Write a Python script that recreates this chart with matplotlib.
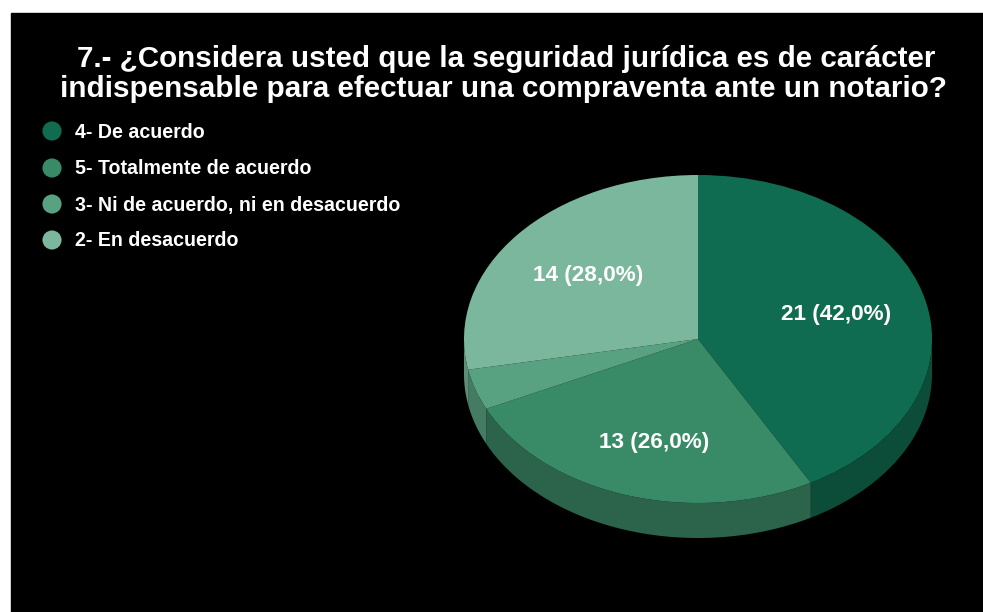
import matplotlib.pyplot as plt
from matplotlib.patches import Rectangle
import numpy as np

plt.rcParams['font.family'] = ['Liberation Sans', 'DejaVu Sans']

title_lines = ["7.- ¿Considera usted que la seguridad jurídica es de carácter",
               "indispensable para efectuar una compraventa ante un notario?"]
labels = ["4- De acuerdo", "5- Totalmente de acuerdo",
          "3- Ni de acuerdo, ni en desacuerdo", "2- En desacuerdo"]
counts = [21, 13, 2, 14]

top_colors = ["#106c50", "#398b67", "#58a282", "#7bb79c"]
side_colors = ["#0c4d39", "#2b644a", "#437c63", "#5d8c77"]

W, H = 983, 612
fig = plt.figure(figsize=(W / 100, H / 100), dpi=100, facecolor="white")

# black panel with a thin white margin on the top and left
fig.add_artist(Rectangle((11 / W, 0), 1 - 11 / W, (H - 13) / H,
                         transform=fig.transFigure, color="black", zorder=0))

# pie geometry in pixels (top face ellipse + rim depth)
cx, cy, rx, ry, depth = 698, 339, 234, 164, 35
pad = 1.1
d = depth / ry
ax = fig.add_axes([(cx - pad * rx) / W, 1 - (cy + pad * ry + depth) / H,
                   2 * pad * rx / W, (2 * pad * ry + depth) / H])
total = sum(counts)


def fmt(pct):
    if pct < 5:
        return ""
    n = int(round(pct * total / 100))
    return f"{n} ({pct:.1f}%)".replace(".", ",")


wedges, _, autotexts = ax.pie(counts, colors=top_colors, startangle=90,
                              counterclock=False, autopct=fmt, pctdistance=0.61,
                              wedgeprops=dict(linewidth=0))
for t in autotexts:
    t.set_color("white")
    t.set_fontsize(16.2)
    t.set_fontweight("bold")
# the front slice label sits a bit lower, over the visible rim
x2, y2 = autotexts[1].get_position()
autotexts[1].set_position((x2, y2 - 0.05))

# rim of the 3D pie: the front half of each slice pushed down by the depth
for w, c in zip(wedges, side_colors):
    t1, t2 = w.theta1, w.theta2
    for lo, hi in [(-180, 0), (180, 360), (540, 720)]:
        a, b = max(t1, lo), min(t2, hi)
        if b <= a:
            continue
        t = np.radians(np.linspace(a, b, 100))
        xs = np.concatenate([np.cos(t), np.cos(t[::-1])])
        ys = np.concatenate([np.sin(t), np.sin(t[::-1]) - d])
        ax.fill(xs, ys, color=c, zorder=0.5, linewidth=0)

ax.set_aspect("auto")
ax.set_xlim(-pad, pad)
ax.set_ylim(-pad - d, pad)
ax.axis("off")

# overlay in pixel coordinates for title and legend
ov = fig.add_axes([0, 0, 1, 1])
ov.set_xlim(0, W)
ov.set_ylim(H, 0)
ov.axis("off")
ov.patch.set_alpha(0)

ov.text(506, 67, title_lines[0], color="white", fontsize=21.3, fontweight="bold",
        ha="center", va="baseline")
ov.text(503, 97, title_lines[1], color="white", fontsize=21.3, fontweight="bold",
        ha="center", va="baseline")

leg_y = [131, 168, 204, 240]
ov.scatter([52] * 4, leg_y, s=190, c=top_colors, linewidths=0)
for y, lab in zip(leg_y, labels):
    ov.text(75, y + 1, lab, color="white", fontsize=14.1, fontweight="bold",
            ha="left", va="center")

fig.savefig("out.png", dpi=100, facecolor="white")
